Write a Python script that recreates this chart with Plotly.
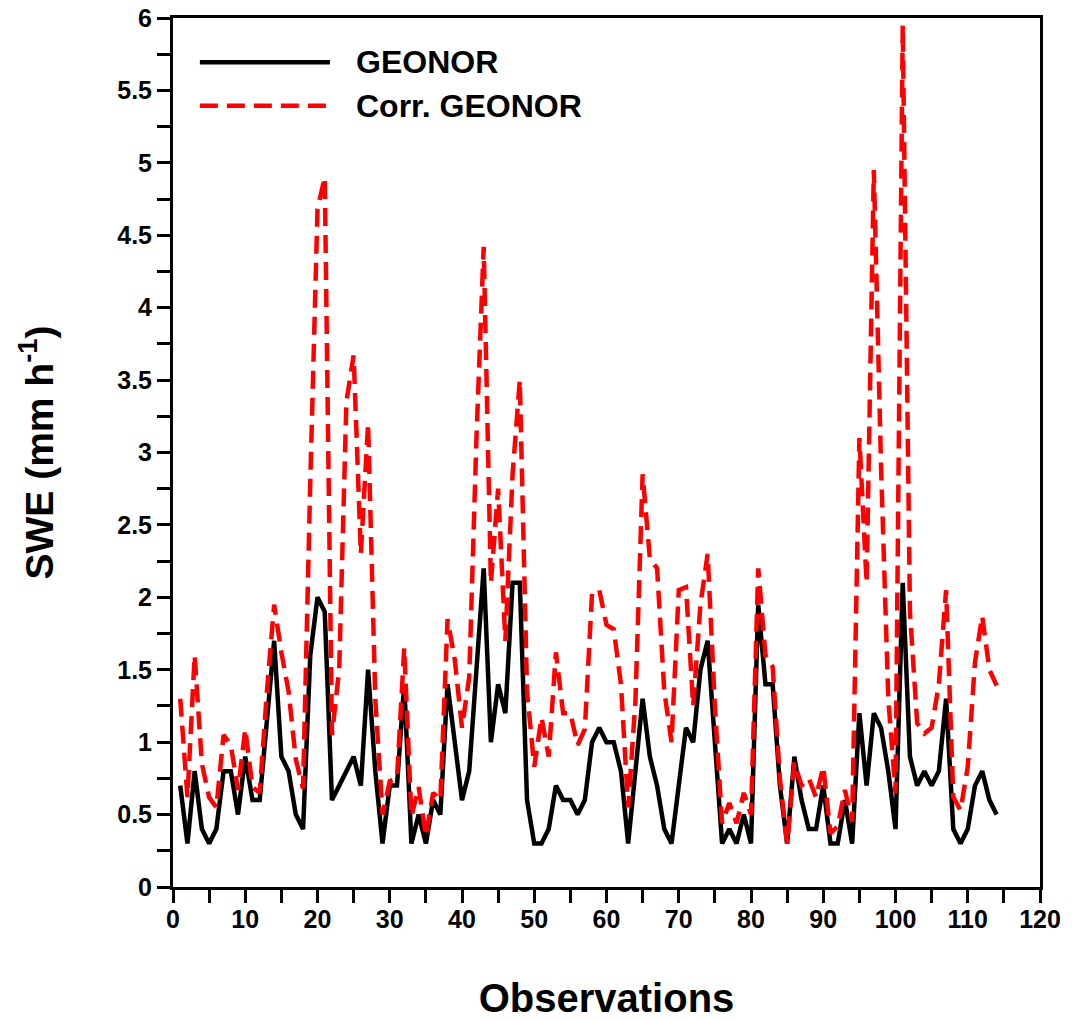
import plotly.graph_objects as go

# ---- data ----
observations = list(range(1, 115))

geonor = [0.7, 0.3, 0.8, 0.4, 0.3, 0.4, 0.8, 0.8, 0.5, 0.9,
          0.6, 0.6, 1.15, 1.7, 0.9, 0.8, 0.5, 0.4, 1.6, 2.0,
          1.9, 0.6, 0.7, 0.8, 0.9, 0.7, 1.5, 0.8, 0.3, 0.7,
          0.7, 1.4, 0.3, 0.5, 0.3, 0.6, 0.5, 1.4, 1.0, 0.6,
          0.8, 1.5, 2.2, 1.0, 1.4, 1.2, 2.1, 2.1, 0.6, 0.3,
          0.3, 0.4, 0.7, 0.6, 0.6, 0.5, 0.6, 1.0, 1.1, 1.0,
          1.0, 0.8, 0.3, 0.8, 1.3, 0.9, 0.7, 0.4, 0.3, 0.7,
          1.1, 1.0, 1.5, 1.7, 1.0, 0.3, 0.4, 0.3, 0.5, 0.3,
          1.95, 1.4, 1.4, 0.7, 0.3, 0.9, 0.6, 0.4, 0.4, 0.7,
          0.3, 0.3, 0.6, 0.3, 1.2, 0.7, 1.2, 1.1, 0.8, 0.4,
          2.1, 0.9, 0.7, 0.8, 0.7, 0.8, 1.3, 0.4, 0.3, 0.4,
          0.7, 0.8, 0.6, 0.5]

corr_geonor = [1.3, 0.62, 1.6, 0.85, 0.62, 0.55, 1.05, 0.98, 0.67, 1.09,
               0.69, 0.65, 1.35, 1.95, 1.62, 1.35, 0.88, 0.68, 2.8, 4.68,
               4.9, 1.05, 1.5, 3.35, 3.67, 2.3, 3.2, 1.3, 0.5, 0.73,
               0.75, 1.65, 0.49, 0.69, 0.35, 0.65, 0.6, 1.85, 1.57, 1.1,
               1.45, 3.1, 4.42, 2.1, 2.75, 1.7, 2.85, 3.5, 1.35, 0.83,
               1.17, 0.9, 1.62, 1.2, 1.2, 0.98, 1.09, 2.03, 2.05, 1.81,
               1.78, 1.4, 0.55, 1.28, 2.85, 2.27, 2.2, 1.35, 1.0, 2.05,
               2.07, 1.25, 1.95, 2.3, 1.25, 0.44, 0.58, 0.44, 0.65, 0.5,
               2.2, 1.6, 1.52, 0.75, 0.3, 0.86, 0.7, 0.75, 0.62, 0.83,
               0.37, 0.42, 0.67, 0.45, 3.1, 2.1, 4.95, 2.9, 1.3, 0.65,
               5.95, 1.9, 1.13, 1.06, 1.1, 1.4, 2.05, 0.62, 0.53, 0.83,
               1.55, 1.87, 1.5, 1.39]

series_names = ["GEONOR", "Corr. GEONOR"]
x_range = [0, 120]
y_range = [0, 6]

FONT = "Liberation Sans, Arial, sans-serif"
LW = 4.5
DASH = "18px,9px"

fig = go.Figure()
fig.add_trace(go.Scatter(
    x=observations, y=geonor, mode="lines", name=series_names[0],
    line=dict(color="#000000", width=LW), showlegend=False))
fig.add_trace(go.Scatter(
    x=observations, y=corr_geonor, mode="lines", name=series_names[1],
    line=dict(color="#FF0000", width=LW, dash=DASH), showlegend=False))

# legend drawn manually (long sample lines as in the reference)
fig.add_shape(type="line", xref="paper", yref="paper",
              x0=0.031, x1=0.181, y0=0.949, y1=0.949,
              line=dict(color="#000000", width=LW))
fig.add_shape(type="line", xref="paper", yref="paper",
              x0=0.031, x1=0.181, y0=0.899, y1=0.899,
              line=dict(color="#FF0000", width=LW, dash=DASH))
fig.add_annotation(xref="paper", yref="paper", x=0.209, y=0.949,
                   text=series_names[0], showarrow=False, xanchor="left",
                   yanchor="middle",
                   font=dict(family=FONT, size=32, color="black", weight="bold"))
fig.add_annotation(xref="paper", yref="paper", x=0.209, y=0.899,
                   text=series_names[1], showarrow=False, xanchor="left",
                   yanchor="middle",
                   font=dict(family=FONT, size=32, color="black", weight="bold"))

axis_common = dict(
    showline=True, linecolor="black", linewidth=3, mirror=True,
    ticks="outside", ticklen=13, tickwidth=3, tickcolor="black",
    showgrid=False, zeroline=False,
    tickfont=dict(family=FONT, size=25, color="black", weight="bold"),
)

fig.update_xaxes(
    range=x_range, dtick=10, tick0=0, ticklabelstandoff=-5,
    minor=dict(dtick=5, ticks="outside", ticklen=13, tickwidth=3, tickcolor="black"),
    title=dict(text="Observations", standoff=52,
               font=dict(family=FONT, size=40, color="black", weight="bold")),
    **axis_common)
fig.update_yaxes(
    range=y_range, dtick=0.5, tick0=0,
    minor=dict(dtick=0.25, ticks="outside", ticklen=13, tickwidth=3, tickcolor="black"),
    title=dict(text="SWE (mm h<sup>-1</sup>)", standoff=52,
               font=dict(family=FONT, size=39, color="black", weight="bold")),
    **axis_common)

fig.update_layout(
    width=1078, height=1021,
    margin=dict(l=173, r=38, t=18, b=134, autoexpand=False),
    paper_bgcolor="white", plot_bgcolor="white",
)

fig.write_html("out.html", config={"displayModeBar": False},
               post_script="document.body.style.margin='0';")
